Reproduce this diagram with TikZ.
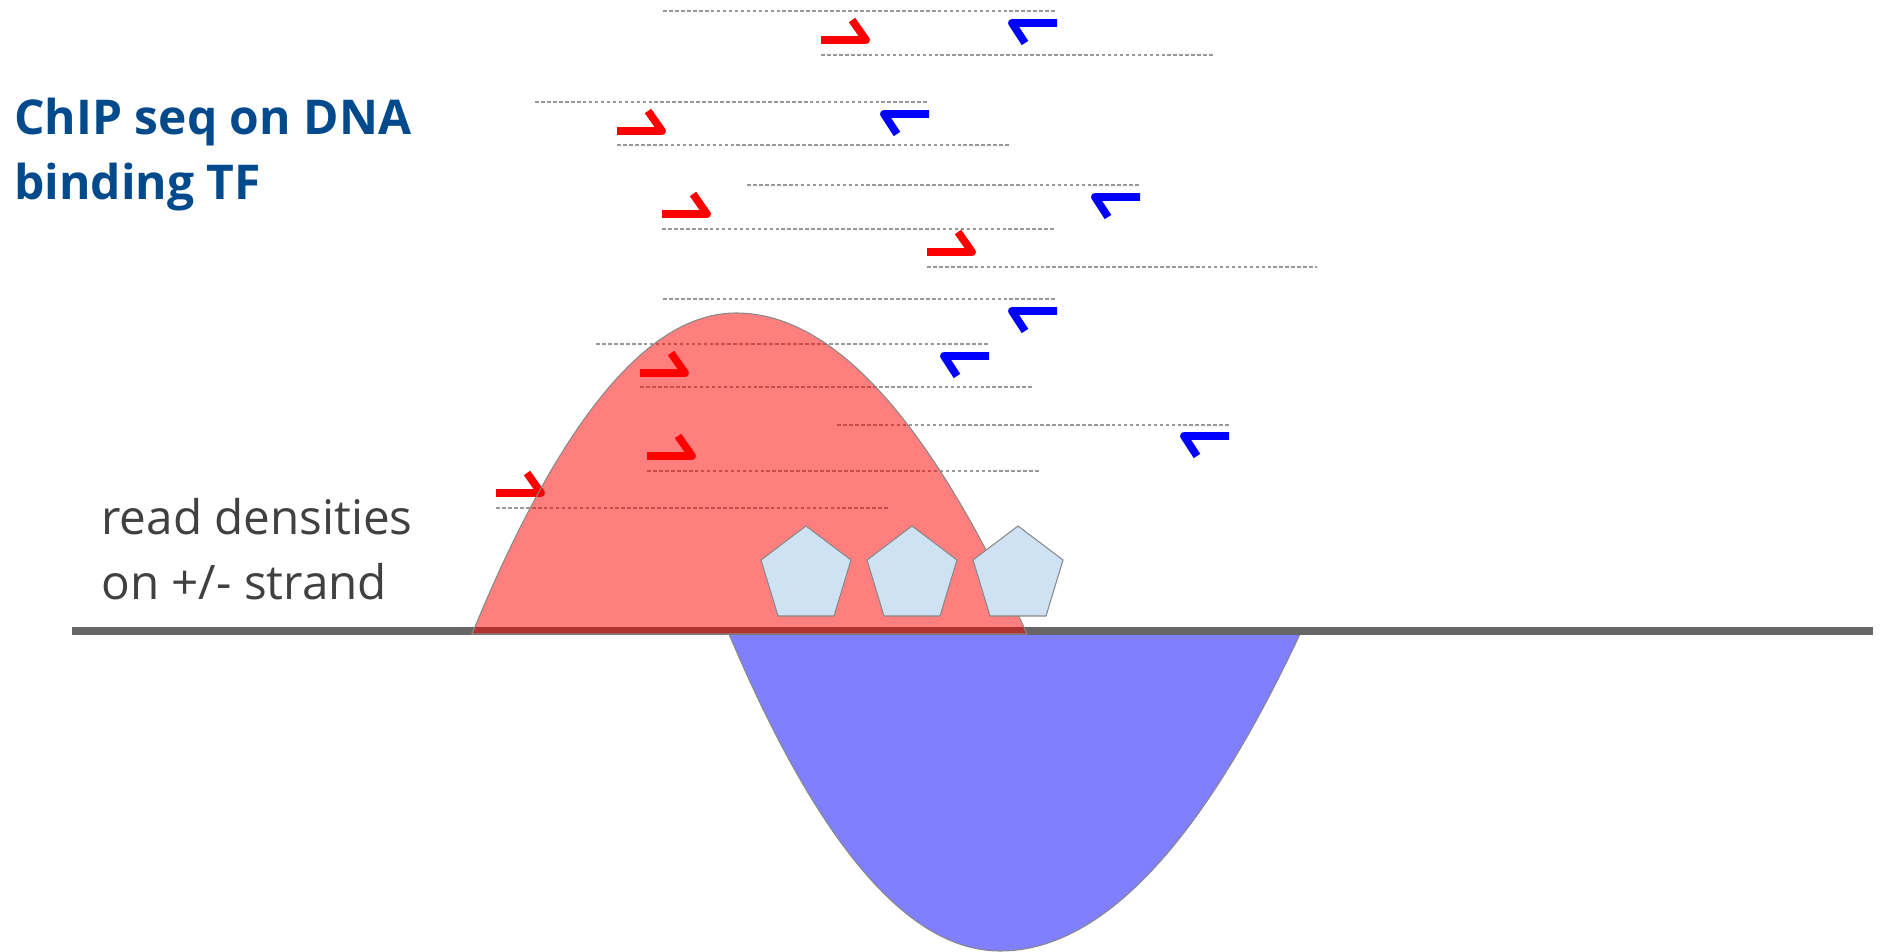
\documentclass[tikz,border=0pt]{standalone}
\usepackage{fontspec}
\setmainfont{Open Sans}
\definecolor{titleblue}{HTML}{034A8C}
\definecolor{labelgray}{HTML}{404040}
\definecolor{dnagray}{HTML}{666666}
\definecolor{readgray}{HTML}{999999}
\definecolor{outlinegray}{HTML}{888888}
\definecolor{tfblue}{HTML}{CFE2F3}
\tikzset{
  readline/.style={draw=readgray, line width=0.7pt, dash pattern=on 2.1pt off 1.3pt},
  fwd/.style={draw=red, line width=4.4pt, line join=round},
  rev/.style={draw=blue, line width=4.4pt, line join=round},
  density/.style={draw=outlinegray, line width=0.6pt, fill opacity=0.5},
  tf/.style={draw=outlinegray, line width=0.6pt, fill=tfblue},
  titletext/.style={inner sep=0pt, anchor=base west, text=titleblue, font=\fontsize{27.3}{37}\selectfont\bfseries},
  labeltext/.style={inner sep=0pt, anchor=base west, text=labelgray, font=\fontsize{27.1}{37}\selectfont}
}
\begin{document}
\begin{tikzpicture}[x=0.02cm,y=-0.02cm]
\useasboundingbox (0,0) rectangle (1880,952);
% minus-strand density
\path[density, fill=blue] (729,634) .. controls (819.3,847.3) and (909.7,951) .. (1000,951)
   .. controls (1100,951) and (1200,847.3) .. (1300,634) -- cycle;
% DNA
\coordinate (dnaL) at (72,631);
\coordinate (dnaR) at (1873,631);
\draw[dnagray, line width=4pt] (dnaL) -- (dnaR);
% reads (dashed)
\foreach \y/\a/\b in {11/663/1057, 55/821/1215, 102/535/929, 145/617/1009, 185/747/1140,
  229/662/1055, 267/927/1317, 299/663/1057, 344/596/989, 387/640/1033, 425/837/1229,
  471/647/1040, 508/496/890}{
  \draw[readline] (\a,\y) -- (\b,\y);
}
% forward read ends
\foreach \a/\y in {821/40, 617/131, 662/214, 927/252, 640/373, 647/456, 496/493}{
  \draw[fwd] (\a,\y) -- (\a+45,\y) -- (\a+31,\y-20);
}
% reverse read ends
\foreach \b/\y in {1057/23, 929/114, 1140/197, 1057/311, 989/356, 1229/436}{
  \draw[rev] (\b,\y) -- (\b-45,\y) -- (\b-32,\y+20);
}
% plus-strand density
\path[density, fill=red] (472,634) .. controls (560,420) and (648,313) .. (736,313)
   .. controls (833,313) and (930,420) .. (1027,634) -- cycle;
% TF pentagons
\foreach \t in {806,912,1018}{
  \draw[tf] (\t,526) -- (\t+45,560) -- (\t+28,616) -- (\t-28,616) -- (\t-45,560) -- cycle;
}
% texts
\node[titletext] (title1) at (14,135) {ChIP seq on DNA};
\node[titletext] (title2) at (14,200) {binding TF};
\node[labeltext] (label1) at (101,535) {read densities};
\node[labeltext] (label2) at (101,600) {on +/- strand};
\end{tikzpicture}
\end{document}
